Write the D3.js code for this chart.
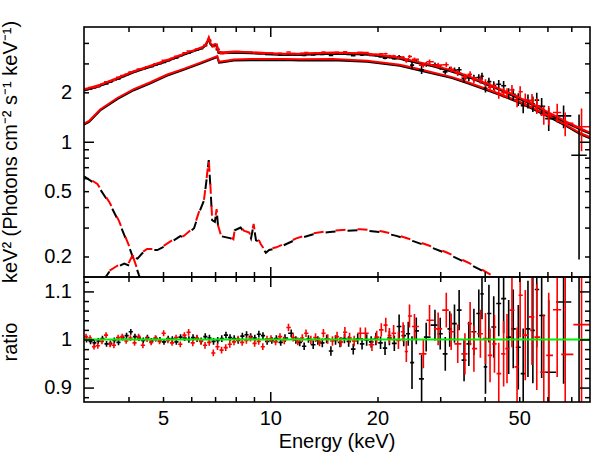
<!DOCTYPE html>
<html>
<head>
<meta charset="utf-8">
<script src="https://cdn.jsdelivr.net/npm/d3@7/dist/d3.min.js"></script>
<style>
  body { margin: 0; background: #fff; }
  svg text { font-family: "Liberation Sans", Arial, Helvetica, sans-serif; font-size: 20px; fill: #000; }
</style>
</head>
<body>
<script>
// ---- data: bin centres (keV), data/model ratio and 1-sigma error, per detector ----
const fpmaE = [3.05,3.13,3.21,3.29,3.38,3.47,3.56,3.65,3.75,3.85,3.95,4.06,4.17,4.28,4.40,4.52,4.64,4.77,4.90,5.03,
  5.17,5.31,5.45,5.60,5.75,5.91,6.07,6.23,6.40,6.57,6.75,6.93,7.12,7.31,7.51,7.71,7.92,8.13,8.35,8.58,
  8.81,9.05,9.29,9.54,9.80,
  10.1,10.4,10.7,11.0,11.45,11.8,12.1,12.45,12.8,13.2,13.6,14.0,14.4,14.8,15.25,15.7,16.15,16.6,17.1,17.6,
  18.1,18.65,19.2,19.8,20.4,21.0,21.6,22.3,23.0,23.7,24.4,25.0,25.7,
  26.6,27.4,29.0,30.0,31.0,31.9,32.9,33.9,35.0,36.1,37.3,38.5,39.3,40.2,41.1,42.4,43.8,45.2,46.7,48.1,
  49.7,51.3,52.9,54.6,56.0,57.8,60.5,66.6,73.6];
const fpmaRatio = [1.000,0.996,0.993,0.997,1.002,0.991,0.992,0.998,0.994,1.004,1.008,1.016,1.006,1.003,0.998,1.004,0.997,1.002,0.999,0.995,
  1.002,1.001,0.995,1.005,1.003,1.000,1.004,1.002,0.997,1.006,1.003,0.996,0.998,1.002,1.009,1.004,1.002,0.998,1.007,1.010,
  1.006,1.003,1.011,1.008,0.996,
  0.998,1.002,0.994,1.003,1.013,0.999,0.994,0.986,1.001,0.989,0.998,0.993,1.001,0.976,0.999,0.994,1.002,0.996,0.980,1.001,
  0.991,0.999,0.995,1.001,0.993,0.982,1.003,0.992,1.027,1.008,1.012,0.952,1.018,
  0.918,1.005,1.030,1.012,0.970,1.022,1.033,1.061,0.957,0.991,1.016,1.054,1.095,0.943,1.054,1.026,1.075,1.085,1.005,1.022,
  0.984,0.929,1.022,1.019,1.104,1.050,0.932,1.078,0.690];
const fpmaErr = [0.006,0.006,0.006,0.006,0.006,0.006,0.006,0.006,0.006,0.006,0.006,0.006,0.006,0.006,0.006,0.006,0.006,0.006,0.006,0.006,
  0.006,0.006,0.006,0.006,0.006,0.007,0.007,0.007,0.007,0.007,0.007,0.007,0.007,0.007,0.007,0.007,0.007,0.007,0.007,0.007,
  0.007,0.007,0.007,0.007,0.007,
  0.007,0.007,0.007,0.008,0.008,0.008,0.008,0.008,0.008,0.009,0.009,0.009,0.009,0.010,0.010,0.010,0.010,0.011,0.011,0.011,
  0.012,0.012,0.012,0.013,0.013,0.014,0.015,0.016,0.025,0.022,0.025,0.055,0.028,
  0.050,0.030,0.032,0.033,0.035,0.037,0.040,0.042,0.044,0.046,0.048,0.050,0.053,0.056,0.060,0.064,0.068,0.072,0.077,0.082,
  0.088,0.094,0.100,0.110,0.120,0.130,0.150,0.170,0.530];

const fpmbE = [3.04,3.12,3.20,3.28,3.37,3.46,3.55,3.64,3.74,3.84,3.94,4.05,4.16,4.27,4.39,4.51,4.63,4.76,4.89,5.02,
  5.16,5.30,5.44,5.59,5.74,5.90,6.06,6.22,6.39,6.56,6.74,6.92,7.11,7.30,7.50,7.70,7.91,8.12,8.34,8.57,
  8.80,9.04,9.28,9.53,9.79,
  10.05,10.35,10.65,10.95,11.25,11.6,11.95,12.3,12.6,13.0,13.4,13.75,14.1,14.5,14.95,15.4,15.8,16.2,16.7,17.2,
  17.9,18.5,19.3,19.9,20.5,21.1,21.6,22.2,22.9,23.6,24.1,24.6,25.4,
  26.9,28.0,29.6,31.2,32.2,33.6,35.2,36.4,37.3,38.9,40.2,41.4,42.6,43.8,45.2,46.2,47.7,49.3,50.3,52.0,
  54.3,56.0,58.6,60.5,63.9,67.3,74.8];
const fpmbRatio = [1.006,1.003,0.985,0.987,0.996,1.009,0.990,0.988,1.004,1.006,0.997,1.003,0.993,1.006,0.988,1.001,0.994,1.003,0.996,1.013,
  0.998,0.993,1.004,0.990,1.009,1.015,0.993,1.003,0.996,0.988,0.994,0.972,0.985,0.978,0.983,0.990,0.995,1.001,0.994,0.998,
  1.003,0.992,0.996,0.985,1.001,
  1.002,0.995,1.006,0.998,1.025,1.004,0.996,1.003,1.013,0.999,1.004,0.995,1.013,1.001,0.997,1.006,0.995,1.015,1.003,0.997,
  1.013,1.013,0.989,1.005,1.020,1.030,1.008,1.013,0.998,1.016,0.975,1.049,1.027,
  0.970,1.040,1.022,1.061,1.016,0.991,0.970,1.033,0.981,1.012,1.002,0.967,0.991,0.929,0.970,0.981,1.061,0.943,1.092,1.009,
  1.047,1.005,0.932,0.967,1.062,0.969,1.031];
const fpmbErr = [0.006,0.006,0.006,0.006,0.006,0.006,0.006,0.006,0.006,0.006,0.006,0.006,0.006,0.006,0.006,0.006,0.006,0.006,0.006,0.006,
  0.006,0.006,0.006,0.006,0.006,0.007,0.007,0.007,0.007,0.007,0.007,0.007,0.007,0.007,0.007,0.007,0.007,0.007,0.007,0.007,
  0.007,0.007,0.007,0.007,0.007,
  0.007,0.007,0.007,0.008,0.008,0.008,0.008,0.008,0.008,0.009,0.009,0.009,0.009,0.010,0.010,0.010,0.010,0.011,0.011,0.011,
  0.012,0.012,0.013,0.013,0.014,0.015,0.016,0.017,0.018,0.020,0.022,0.024,0.026,
  0.030,0.032,0.034,0.036,0.038,0.040,0.043,0.045,0.048,0.050,0.053,0.056,0.060,0.064,0.068,0.072,0.077,0.082,0.088,0.094,
  0.100,0.110,0.120,0.130,0.140,0.160,0.300];

// cross-normalisation of FPMB relative to FPMA
const fpmbConst = 1.015;

// ---- model curves, keV^2 (photons cm^-2 s^-1 keV^-1) ----
const totalE = [3.00,3.33,3.72,4.14,4.61,5.12,5.71,6.20,6.45,6.58,6.66,6.72,6.78,6.88,7.00,7.08,7.15,7.40,7.91,8.8,
  10.0,10.9,12.1,15.0,18.7,23.1,26.3,28.6,31.9,35.6,39.5,44.1,49.2,54.6,61.0,68.0,75.4,79.0];
const totalModel = [2.05,2.19,2.41,2.65,2.86,3.09,3.38,3.60,3.72,3.85,4.05,4.25,3.95,3.82,3.88,3.86,3.48,3.46,3.49,3.46,
  3.41,3.38,3.39,3.44,3.40,3.20,3.00,2.88,2.70,2.50,2.28,2.07,1.86,1.67,1.47,1.30,1.17,1.12];

const contE = [3.00,3.10,3.33,3.72,4.14,4.61,5.12,5.71,6.34,6.95,7.10,7.18,7.27,7.91,8.8,10.9,12.1,15.0,18.7,23.1,
  26.3,28.6,32.4,36.0,40.3,44.0,50.3,55.0,62.4,68.0,74.3,79.0];
const contModel = [1.27,1.32,1.55,1.82,2.06,2.27,2.52,2.74,2.98,3.22,3.28,3.03,3.04,3.12,3.14,3.15,3.13,3.14,3.07,2.90,
  2.72,2.60,2.44,2.26,2.07,1.93,1.72,1.57,1.37,1.24,1.11,1.05];

const softE = [3.00,3.03,3.27,3.54,3.76,4.05,4.28,4.50];
const softModel = [0.615,0.607,0.545,0.420,0.325,0.218,0.154,0.115];

const reflE = [3.00,3.30,3.45,3.53,3.72,3.89,3.99,4.10,4.24,4.37,4.51,4.82,5.02,5.36,5.59,5.71,6.11,6.30,6.52,6.64,
  6.72,6.80,6.87,6.99,7.07,7.14,7.27,7.75,7.88,7.95,8.26,8.43,8.73,8.83,8.98,9.12,9.31,9.41,9.72,9.93,
  10.4,10.9,11.83,13.2,14.7,16.4,17.9,20.5,22.6,25.2,28.0,31.2,34.8,38.7,41.3,43.0];
const reflModel = [0.125,0.140,0.150,0.161,0.173,0.181,0.177,0.199,0.194,0.209,0.219,0.219,0.229,0.251,0.266,0.262,0.297,0.366,0.441,0.612,
  0.773,0.507,0.333,0.325,0.383,0.303,0.266,0.258,0.251,0.289,0.300,0.283,0.276,0.258,0.311,0.251,0.246,0.234,0.211,0.219,
  0.224,0.234,0.254,0.273,0.282,0.287,0.289,0.281,0.267,0.248,0.229,0.209,0.187,0.167,0.154,0.145];

// ---- axes ----
const xLabels = [5, 10, 20, 50];
const xMinor = [4, 5, 6, 7, 8, 9, 20, 30, 40, 50, 60, 70];
const xMajor = [10];
const fluxLabels = [0.2, 0.5, 1, 2];
const fluxMinor = [0.2, 0.3, 0.4, 0.5, 0.6, 0.7, 0.8, 0.9, 2, 3, 4];
const fluxMajor = [1];
const ratioLabels = [0.9, 1, 1.1];
const ratioMinor = [0.88, 0.92, 0.94, 0.96, 0.98, 1.02, 1.04, 1.06, 1.08, 1.12];

const W = 598, H = 455;
const pLeft = 84, pRight = 590, pTop = 27, pMid = 277, pBottom = 402;

const x = d3.scaleLog().domain([3, 79]).range([pLeft, pRight]);
const yF = d3.scaleLog().domain([0.15, 5]).range([pMid, pTop]);
const yR = d3.scaleLinear().domain([0.87, 1.13]).range([pBottom, pMid]);
const totalAt = d3.scaleLog().domain(totalE).range(totalModel);

const svg = d3.select("body").append("svg").attr("width", W).attr("height", H);

const defs = svg.append("defs");
defs.append("clipPath").attr("id", "clipTop").append("rect")
  .attr("x", pLeft).attr("y", pTop).attr("width", pRight - pLeft).attr("height", pMid - pTop);
defs.append("clipPath").attr("id", "clipRat").append("rect")
  .attr("x", pLeft).attr("y", pMid).attr("width", pRight - pLeft).attr("height", pBottom - pMid);

function makeBins(E, ratio, err, c) {
  const n = E.length;
  return E.map((e, i) => {
    const lo = i > 0 ? Math.sqrt(E[i - 1] * e) : e * e / Math.sqrt(e * E[i + 1]);
    const hi = i < n - 1 ? Math.sqrt(e * E[i + 1]) : e * e / Math.sqrt(E[i - 1] * e);
    const m = totalAt(e) * c;
    return { e, lo: Math.max(lo, 3), hi: Math.min(hi, 79),
      r: ratio[i], dr: err[i], f: m * ratio[i], df: m * err[i] };
  });
}
const binsA = makeBins(fpmaE, fpmaRatio, fpmaErr, 1);
const binsB = makeBins(fpmbE, fpmbRatio, fpmbErr, fpmbConst);

const gTop = svg.append("g").attr("clip-path", "url(#clipTop)");
const gRat = svg.append("g").attr("clip-path", "url(#clipRat)");

function curve(E, V, c) {
  return d3.line().x(d => x(d)).y((d, i) => yF(V[i] * c))(E);
}

// components
[["#000", 1], ["#f00", fpmbConst]].forEach(([col, c]) => {
  gTop.append("path").attr("d", curve(contE, contModel, c))
    .attr("fill", "none").attr("stroke", col).attr("stroke-width", 2);
});
[["#000", 1, 0], ["#f00", fpmbConst, 12]].forEach(([col, c, off]) => {
  [[softE, softModel], [reflE, reflModel]].forEach(([E, V]) => {
    gTop.append("path").attr("d", curve(E, V, c))
      .attr("fill", "none").attr("stroke", col).attr("stroke-width", 2)
      .attr("stroke-dasharray", "10,12").attr("stroke-dashoffset", off);
  });
});

function crosses(g, bins, y, val, er, col) {
  g.append("g").selectAll("path").data(bins).join("path")
    .attr("d", d => {
      const v = d[val], dv = d[er];
      const yl = y(Math.max(v - dv, 0.01)), yh = y(v + dv);
      return `M${x(d.lo)},${y(Math.max(v, 0.01))}H${x(d.hi)}M${x(d.e)},${yl}V${yh}`;
    })
    .attr("fill", "none").attr("stroke", col).attr("stroke-width", 1.6);
}

crosses(gTop, binsA, yF, "f", "df", "#000");
gTop.append("path").attr("d", curve(totalE, totalModel, 1))
  .attr("fill", "none").attr("stroke", "#000").attr("stroke-width", 2);
crosses(gTop, binsB, yF, "f", "df", "#f00");
gTop.append("path").attr("d", curve(totalE, totalModel, fpmbConst))
  .attr("fill", "none").attr("stroke", "#f00").attr("stroke-width", 2);

crosses(gRat, binsA, yR, "r", "dr", "#000");
crosses(gRat, binsB, yR, "r", "dr", "#f00");
gRat.append("line").attr("x1", pLeft).attr("x2", pRight)
  .attr("y1", yR(1)).attr("y2", yR(1))
  .attr("stroke", "#00ee00").attr("stroke-width", 2);

// frames
[[pTop, pMid], [pMid, pBottom]].forEach(([a, b]) => {
  svg.append("rect").attr("x", pLeft).attr("y", a).attr("width", pRight - pLeft).attr("height", b - a)
    .attr("fill", "none").attr("stroke", "#000").attr("stroke-width", 1.6);
});

// ticks
function ticks(axis, tx, ty, vals, size) {
  svg.append("g").attr("transform", `translate(${tx},${ty})`)
    .call(axis.tickValues(vals).tickSize(size).tickSizeOuter(0).tickFormat(""))
    .call(g => g.select(".domain").remove())
    .call(g => g.selectAll("line").attr("stroke-width", 1.5));
}
[[d3.axisTop, pTop, -5, -10], [d3.axisTop, pMid, 5, 10],
 [d3.axisBottom, pMid, 5, 10], [d3.axisBottom, pBottom, -5, -10]].forEach(([mk, ty, s1, s2]) => {
  ticks(mk(x), 0, ty, xMinor, s1);
  ticks(mk(x), 0, ty, xMajor, s2);
});
ticks(d3.axisLeft(yF), pLeft, 0, fluxMinor, -5);
ticks(d3.axisLeft(yF), pLeft, 0, fluxMajor, -10);
ticks(d3.axisRight(yF), pRight, 0, fluxMinor, -5);
ticks(d3.axisRight(yF), pRight, 0, fluxMajor, -10);
ticks(d3.axisLeft(yR), pLeft, 0, ratioMinor, -5);
ticks(d3.axisLeft(yR), pLeft, 0, ratioLabels, -10);
ticks(d3.axisRight(yR), pRight, 0, ratioMinor, -5);
ticks(d3.axisRight(yR), pRight, 0, ratioLabels, -10);

// tick labels
function labels(axis, tx, ty, vals, pad) {
  svg.append("g").attr("transform", `translate(${tx},${ty})`)
    .call(axis.tickValues(vals).tickSize(0).tickPadding(pad).tickFormat(d => String(d)))
    .call(g => g.select(".domain").remove())
    .call(g => g.attr("font-size", null).attr("font-family", null));
}
labels(d3.axisBottom(x), 0, pBottom, xLabels, 9);
labels(d3.axisLeft(yF), pLeft, 0, fluxLabels, 12);
labels(d3.axisLeft(yR), pLeft, 0, ratioLabels, 12);

// titles
svg.append("text").attr("x", (pLeft + pRight) / 2).attr("y", 448)
  .attr("text-anchor", "middle").text("Energy (keV)");
svg.append("text").attr("transform", "translate(17,152) rotate(-90)")
  .attr("text-anchor", "middle").text("keV\u00b2 (Photons cm\u207b\u00b2 s\u207b\u00b9 keV\u207b\u00b9)");
svg.append("text").attr("transform", "translate(17,342) rotate(-90)")
  .attr("text-anchor", "middle").text("ratio");
</script>
</body>
</html>
